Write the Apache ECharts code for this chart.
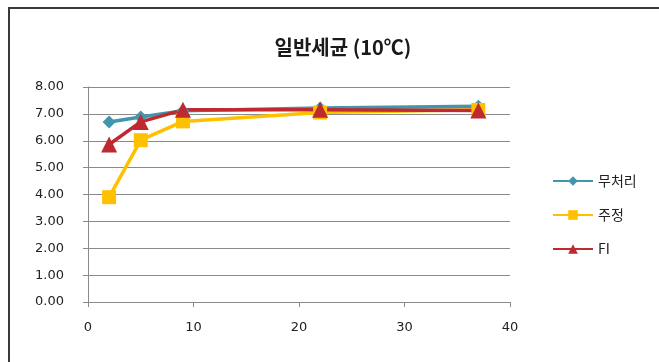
<!DOCTYPE html>
<html>
<head>
<meta charset="utf-8">
<script src="https://cdn.jsdelivr.net/npm/echarts@6/dist/echarts.min.js"></script>
<style>
  html, body { margin: 0; padding: 0; background: #fff; }
  #chart { width: 659px; height: 362px; }
</style>
</head>
<body>
<div id="chart"></div>
<script>
// Storage days (x) and log counts of general bacteria at 10℃
const days = [2, 5, 9, 22, 37];
const untreated = [6.70, 6.88, 7.12, 7.22, 7.28];   // 무처리
const ethanol = [3.90, 6.02, 6.72, 7.05, 7.15];     // 주정
const fiTreated = [5.86, 6.70, 7.15, 7.15, 7.13];   // FI
const seriesNames = ['무처리', '주정', 'FI'];
const titleText = '일반세균 (10℃)';

const font = '"Noto Sans CJK KR", "Noto Sans", sans-serif';
const numFont = '"DejaVu Sans", "Noto Sans", sans-serif';
const pair = (ys) => days.map((d, i) => [d, ys[i]]);

const chart = echarts.init(document.getElementById('chart'), null, { renderer: 'canvas' });

const mkSeries = (name, ys, color, symbol, size) => ({
  name: name,
  type: 'line',
  data: pair(ys),
  symbol: symbol,
  symbolSize: size,
  lineStyle: { color: color, width: 3.5 },
  itemStyle: { color: color },
  emphasis: { disabled: true },
  animation: false
});

chart.setOption({
  backgroundColor: '#fff',
  title: {
    text: titleText,
    left: 338,
    textAlign: 'center',
    top: 32,
    textStyle: { fontFamily: font, fontSize: 20, fontWeight: 'bold', color: '#1a1a1a' }
  },
  graphic: [{
    type: 'rect',
    shape: { x: 9, y: 8, width: 720, height: 420 },
    style: { fill: 'none', stroke: '#3a3a3a', lineWidth: 2 },
    silent: true
  }],
  legend: {
    orient: 'vertical',
    left: 547,
    top: 169,
    itemWidth: 40,
    itemHeight: 12,
    itemGap: 20,
    data: seriesNames,
    textStyle: { fontFamily: font, fontSize: 14, color: '#222' }
  },
  grid: { left: 88, right: 149, top: 87, bottom: 60, containLabel: false },
  xAxis: {
    type: 'value',
    min: 0, max: 40, interval: 10,
    axisLine: { show: true, lineStyle: { color: '#8a8a8a', width: 1 } },
    axisTick: { show: true, inside: false, length: 5, lineStyle: { color: '#8a8a8a' } },
    splitLine: { show: false },
    axisLabel: { margin: 19, fontFamily: numFont, fontSize: 13, color: '#222' }
  },
  yAxis: {
    type: 'value',
    min: 0, max: 8, interval: 1,
    axisLine: { show: true, lineStyle: { color: '#8a8a8a', width: 1 } },
    axisTick: { show: true, length: 5, lineStyle: { color: '#8a8a8a' } },
    splitLine: { show: true, lineStyle: { color: '#8a8a8a', width: 1 } },
    axisLabel: {
      margin: 24, fontFamily: numFont, fontSize: 13, color: '#222',
      formatter: (v) => v.toFixed(2)
    }
  },
  series: [
    mkSeries(seriesNames[0], untreated, '#4196AE', 'diamond', 13),
    mkSeries(seriesNames[1], ethanol, '#FFC000', 'rect', 14),
    mkSeries(seriesNames[2], fiTreated, '#BE2A2F', 'triangle', 16)
  ]
});
</script>
</body>
</html>
